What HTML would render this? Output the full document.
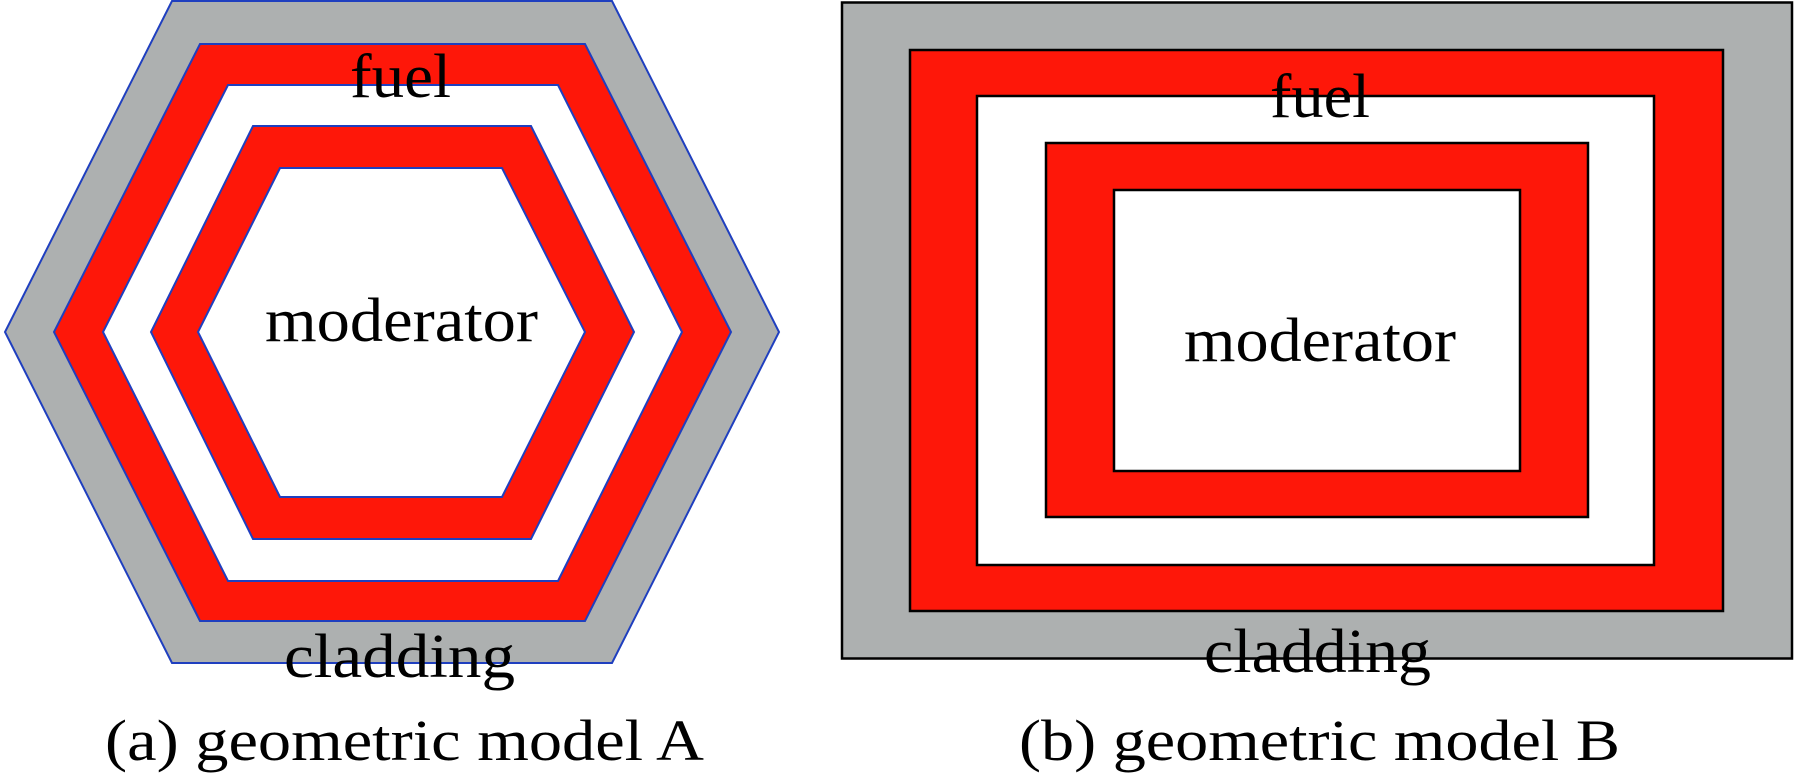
<!DOCTYPE html>
<html><head><meta charset="utf-8"><style>html,body{margin:0;padding:0;background:#fff}svg{display:block}</style></head>
<body>
<svg width="1795" height="780" viewBox="0 0 1795 780" xmlns="http://www.w3.org/2000/svg">
<g stroke="#1f3fbf" stroke-width="2">
<polygon points="172,1 612,1 779,332 612,663 172,663 5,332" fill="#adb0b0"/>
<polygon points="200,44 585,44 731,332 585,621 200,621 54,332" fill="#fe1709"/>
<polygon points="228,85 558,85 682,332 558,581 228,581 103,332" fill="#fff"/>
<polygon points="253,126 531,126 634,332 531,539 253,539 151,332" fill="#fe1709"/>
<polygon points="280,168 502,168 585,332 502,497 280,497 198,332" fill="#fff"/>
</g>
<g stroke="#000" stroke-width="2.5">
<rect x="842" y="2.5" width="950" height="656" fill="#adb0b0"/>
<rect x="910" y="50" width="813" height="561" fill="#fe1709"/>
<rect x="977" y="96" width="677" height="469" fill="#fff"/>
<rect x="1046" y="143" width="542" height="374" fill="#fe1709"/>
<rect x="1114" y="190" width="406" height="281" fill="#fff"/>
</g>
<g font-family="Liberation Serif, serif" fill="#000" font-size="62">
<text x="350" y="97" textLength="101" lengthAdjust="spacingAndGlyphs">fuel</text>
<text x="265" y="341" textLength="273" lengthAdjust="spacingAndGlyphs">moderator</text>
<text x="284" y="677" textLength="231" lengthAdjust="spacingAndGlyphs">cladding</text>
<text x="1270" y="117" textLength="100" lengthAdjust="spacingAndGlyphs">fuel</text>
<text x="1184" y="361" textLength="272" lengthAdjust="spacingAndGlyphs">moderator</text>
<text x="1204" y="672" textLength="227" lengthAdjust="spacingAndGlyphs">cladding</text>
<text x="105" y="760" font-size="58" textLength="599" lengthAdjust="spacingAndGlyphs">(a) geometric model A</text>
<text x="1019" y="760" font-size="58" textLength="601" lengthAdjust="spacingAndGlyphs">(b) geometric model B</text>
</g>
</svg>
</body></html>
